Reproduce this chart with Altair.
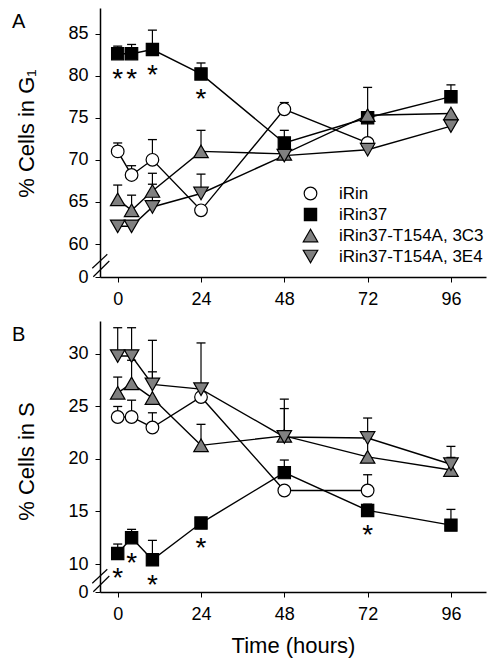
import altair as alt
import pandas as pd

times = [0, 4, 10, 24, 48, 72, 96]
x_ticks = [0, 24, 48, 72, 96]
series = ["iRin", "iRin37", "iRin37-T154A, 3C3", "iRin37-T154A, 3E4"]

# Panel A: % cells in G1 (mean, upward SE)
g1_irin = [71.0, 68.2, 70.0, 64.0, 76.0, 72.0, None]
g1_irin_err = [1.0, 1.1, 2.4, 0.0, 0.8, 2.6, None]
g1_irin37 = [82.6, 82.6, 83.1, 80.2, 72.0, 75.0, 77.5]
g1_irin37_err = [0.9, 1.1, 2.3, 1.3, 1.5, 0.0, 1.4]
g1_3c3 = [65.3, 64.0, 66.3, 71.0, 70.7, 75.3, 75.5]
g1_3c3_err = [1.7, 1.8, 2.1, 2.5, 0.0, 3.3, 0.0]
g1_3e4 = [62.1, 62.1, 64.4, 66.0, 70.5, 71.2, 74.0]
g1_3e4_err = [0.6, 0.4, 2.7, 2.3, 0.0, 0.0, 0.0]
g1_star_times = [0, 4, 10, 24]

# Panel B: % cells in S
s_irin = [24.0, 24.0, 23.0, 25.9, 17.0, 17.0, None]
s_irin_err = [1.0, 1.6, 1.4, 1.0, 0.0, 1.5, None]
s_irin37 = [11.0, 12.5, 10.4, 13.9, 18.7, 15.1, 13.7]
s_irin37_err = [0.9, 0.8, 1.85, 0.5, 1.2, 0.6, 1.5]
s_3c3 = [26.3, 27.2, 25.8, 21.3, 22.2, 20.2, 18.95]
s_3c3_err = [1.5, 2.2, 2.5, 2.0, 2.6, 1.7, 1.2]
s_3e4 = [29.8, 29.8, 27.1, 26.65, 22.1, 22.0, 19.5]
s_3e4_err = [2.7, 2.7, 4.2, 4.4, 3.6, 1.9, 1.7]
s_star_times = [0, 4, 10, 24, 72]

FONT = "Liberation Sans"


def build(vals, errs):
    rows = []
    for name, v_list, e_list in zip(series, vals, errs):
        for t, v, e in zip(times, v_list, e_list):
            if v is None:
                continue
            rows.append({"series": name, "t": t, "v": v, "top": v + (e or 0), "err": e or 0})
    return pd.DataFrame(rows)


df_a = build([g1_irin, g1_irin37, g1_3c3, g1_3e4],
             [g1_irin_err, g1_irin37_err, g1_3c3_err, g1_3e4_err])
df_b = build([s_irin, s_irin37, s_3c3, s_3e4],
             [s_irin_err, s_irin37_err, s_3c3_err, s_3e4_err])

stars_a = pd.DataFrame({"t": g1_star_times,
                        "v": [g1_irin37[times.index(t)] for t in g1_star_times]})
stars_b = pd.DataFrame({"t": s_star_times,
                        "v": [s_irin37[times.index(t)] for t in s_star_times]})


def panel(df, stars, ydomain, yrange, height, yticks, ytitle, title_y, letter,
          show_xtitle, show_legend):
    xenc = alt.X("t:Q",
                 scale=alt.Scale(domain=[-5.1, 106.1], nice=False, zero=False),
                 axis=alt.Axis(values=x_ticks, title="Time (hours)" if show_xtitle else None,
                               titleFontSize=22, titleFont=FONT, titleColor="black",
                               titleFontWeight="normal", titleBaseline="alphabetic", titleY=60,
                               labelFontSize=18, labelFont=FONT, labelColor="black",
                               labelPadding=8, tickSize=5, tickColor="black",
                               domainColor="black", domainWidth=1.5, grid=False))
    yenc = alt.Y("v:Q",
                 scale=alt.Scale(domain=ydomain, range=yrange, nice=False, zero=False),
                 axis=alt.Axis(values=yticks, title=ytitle, titleFontSize=22, titleFont=FONT,
                               titleColor="black", titleFontWeight="normal",
                               titleAngle=270, titleBaseline="alphabetic",
                               titleX=-67, titleY=title_y,
                               labelFontSize=18, labelFont=FONT, labelColor="black",
                               labelPadding=7, tickSize=5, tickColor="black",
                               domainColor="black", domainWidth=1.5, grid=False))
    if show_legend:
        leg = alt.Legend(title=None, orient="none", legendX=202, legendY=177,
                         labelFont=FONT, labelFontSize=17, labelColor="black",
                         symbolStrokeColor="black", symbolStrokeWidth=1.2,
                         rowPadding=2, labelOffset=20, padding=0)
    else:
        leg = None
    shape = alt.Shape("series:N", scale=alt.Scale(domain=series,
                      range=["circle", "square", "triangle-up", "triangle-down"]), legend=leg)
    fill = alt.Fill("series:N", scale=alt.Scale(domain=series,
                    range=["white", "black", "#808080", "#808080"]), legend=leg)
    stroke = alt.Stroke("series:N", scale=alt.Scale(domain=series,
                        range=["black", "black", "black", "black"]), legend=leg)
    size = alt.Size("series:N", scale=alt.Scale(type="ordinal", domain=series,
                    range=[160, 150, 210, 210]), legend=leg)

    base = alt.Chart(df)
    lines = base.mark_line(color="black", strokeWidth=1.4).encode(
        x=xenc, y=yenc, detail="series:N", order="t:Q")
    errdf = base.transform_filter("datum.err > 0")
    bars = errdf.mark_rule(color="black", strokeWidth=1.2).encode(
        x=xenc, y=yenc, y2="top:Q")
    caps = errdf.mark_tick(color="black", orient="horizontal", size=9, thickness=1.3,
                           opacity=1).encode(x=xenc, y=alt.Y("top:Q", scale=alt.Scale(
                               domain=ydomain, range=yrange, nice=False, zero=False)))
    pts = base.mark_point(filled=True, strokeWidth=1.2, opacity=1).encode(
        x=xenc, y=yenc, shape=shape, fill=fill, stroke=stroke, size=size)
    star = alt.Chart(stars).mark_text(text="*", fontSize=28, font=FONT, color="black",
                                      baseline="alphabetic", dy=34).encode(x=xenc, y=yenc)
    one = alt.Data(values=[{"k": 1}])
    lab = alt.Chart(one).mark_text(text=letter, fontSize=20, font=FONT, color="black",
                                   align="left", baseline="alphabetic").encode(
        x=alt.value(-88), y=alt.value(20))
    s1 = alt.Chart(one).mark_rule(color="black", strokeWidth=1.2).encode(
        x=alt.value(-7.7), x2=alt.value(7.3), y=alt.value(height - 8.7), y2=alt.value(height - 22.7))
    s2 = alt.Chart(one).mark_rule(color="black", strokeWidth=1.2).encode(
        x=alt.value(-6.7), x2=alt.value(9.3), y=alt.value(height - 0.3), y2=alt.value(height - 16))
    return alt.layer(lines, bars, caps, pts, star, lab, s1, s2).properties(width=386, height=height)


pa = panel(df_a, stars_a, [0, 60, 88.03], [269, 236, 0], 269,
           [0, 60, 65, 70, 75, 80, 85], "% Cells in G\u2081", 125, "A", False, True)
pb = panel(df_b, stars_b, [0, 10, 33.14], [271, 243, 0], 271,
           [0, 10, 15, 20, 25, 30], "% Cells in S", 140, "B", True, False)

chart = alt.vconcat(pa, pb, spacing=13).resolve_scale(
    y="independent", shape="independent", fill="independent", size="independent",
    stroke="independent"
).resolve_legend(shape="independent", fill="independent", size="independent",
                 stroke="independent").properties(
    padding={"left": 4, "top": 0, "right": 5, "bottom": 5}
).configure_view(stroke=None)

chart.save("out.html", embed_options={"renderer": "svg", "actions": False})
